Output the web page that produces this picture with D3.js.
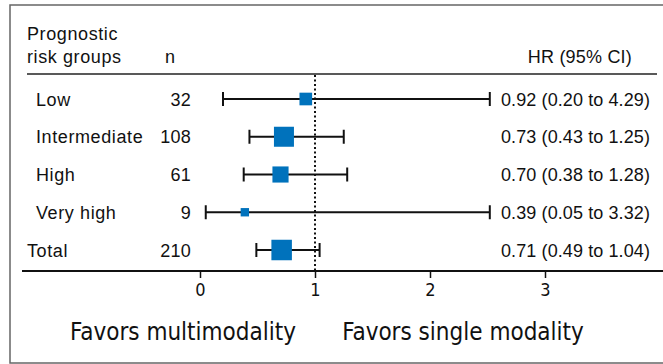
<!DOCTYPE html>
<html>
<head>
<meta charset="utf-8">
<script src="https://cdn.jsdelivr.net/npm/d3@7"></script>
<style>
  body { margin: 0; background: #fff; }
  svg text { font-family: "Liberation Sans", Arial, sans-serif; fill: #111; }
  .narrow { font-family: "Liberation Sans Narrow", "DejaVu Sans Condensed", "Liberation Sans", sans-serif; }
</style>
</head>
<body>
<svg></svg>
<script>
// Data
var groups = ["Low", "Intermediate", "High", "Very high", "Total"];
var counts = [32, 108, 61, 9, 210];
var hr = [0.92, 0.73, 0.70, 0.39, 0.71];
var lower = [0.20, 0.43, 0.38, 0.05, 0.49];
var upper = [4.29, 1.25, 1.28, 3.32, 1.04];
var boxWeight = [16, 40, 26, 7, 42];
var ticks = [0, 1, 2, 3];

var width = 663, height = 364;
var blue = "#0072bc";

var svg = d3.select("svg")
    .attr("width", width)
    .attr("height", height);

// outer frame (runs off the right side)
svg.append("rect")
    .attr("x", 10).attr("y", 5)
    .attr("width", 700).attr("height", 358)
    .attr("fill", "none")
    .attr("stroke", "#666")
    .attr("stroke-width", 1.5);

// scales
var x = d3.scaleLinear().domain([0, 3]).range([200, 545]);
var xMax = 2.52; // CIs are cut at the plot edge
var y = d3.scalePoint().domain(groups).range([99, 250]);
var size = d3.scaleSqrt().domain([0, 42]).range([0, 20.5]);

function label(sel) {
    sel.style("font-size", "18px").style("letter-spacing", "0.6px");
}

// header
var head = svg.append("g").call(label);
head.append("text").attr("x", 27).attr("y", 40).text("Prognostic");
head.append("text").attr("x", 27).attr("y", 63).text("risk groups");
head.append("text").attr("x", 165).attr("y", 63).text("n");
head.append("text").attr("x", 632).attr("y", 63).attr("text-anchor", "end")
    .style("letter-spacing", "0.2px").text("HR (95% CI)");

svg.append("line")
    .attr("x1", 27).attr("x2", 657)
    .attr("y1", 74).attr("y2", 74)
    .attr("stroke", "#222").attr("stroke-width", 1.5);

// null line at HR = 1
svg.append("line")
    .attr("x1", x(1)).attr("x2", x(1))
    .attr("y1", 75).attr("y2", 271)
    .attr("stroke", "#111")
    .attr("stroke-width", 2)
    .attr("stroke-dasharray", "2,2.5");

var rows = svg.append("g").selectAll("g")
    .data(groups)
    .join("g")
    .attr("transform", function(d) { return "translate(0," + y(d) + ")"; });

rows.append("text")
    .attr("x", function(d) { return d == "Total" ? 27 : 36; })
    .attr("y", 6.5)
    .call(label)
    .text(function(d) { return d; });

rows.append("text")
    .attr("x", 191)
    .attr("y", 6.5)
    .attr("text-anchor", "end")
    .call(label)
    .style("letter-spacing", "0.2px")
    .text(function(d, i) { return counts[i]; });

rows.append("text")
    .attr("x", 501)
    .attr("y", 6.5)
    .call(label)
    .style("letter-spacing", "0.1px")
    .text(function(d, i) {
        return hr[i].toFixed(2) + " (" + lower[i].toFixed(2) + " to " + upper[i].toFixed(2) + ")";
    });

// CI whiskers
rows.append("line")
    .attr("x1", function(d, i) { return x(lower[i]); })
    .attr("x2", function(d, i) { return x(Math.min(upper[i], xMax)); })
    .attr("stroke", "#111").attr("stroke-width", 1.8);

rows.append("line")
    .attr("x1", function(d, i) { return x(lower[i]); })
    .attr("x2", function(d, i) { return x(lower[i]); })
    .attr("y1", -7).attr("y2", 7)
    .attr("stroke", "#111").attr("stroke-width", 2);

rows.append("line")
    .attr("x1", function(d, i) { return x(Math.min(upper[i], xMax)); })
    .attr("x2", function(d, i) { return x(Math.min(upper[i], xMax)); })
    .attr("y1", -7).attr("y2", 7)
    .attr("stroke", "#111").attr("stroke-width", 2);

// point estimates
rows.append("rect")
    .attr("x", function(d, i) { return x(hr[i]) - size(boxWeight[i]) / 2; })
    .attr("y", function(d, i) { return -size(boxWeight[i]) / 2; })
    .attr("width", function(d, i) { return size(boxWeight[i]); })
    .attr("height", function(d, i) { return size(boxWeight[i]); })
    .attr("fill", blue);

// axis
var axis = svg.append("g")
    .attr("transform", "translate(0,271)")
    .call(d3.axisBottom(x).tickValues(ticks).tickSize(7).tickPadding(5).tickFormat(d3.format("d")));
axis.select(".domain").remove();
axis.selectAll(".tick line").attr("stroke", "#111").attr("stroke-width", 1.5);
axis.selectAll(".tick text")
    .attr("class", "narrow")
    .style("font-size", "18px")
    .attr("fill", "#111");

svg.append("line")
    .attr("x1", 22).attr("x2", width)
    .attr("y1", 271).attr("y2", 271)
    .attr("stroke", "#111").attr("stroke-width", 2);

// direction labels
svg.append("text")
    .attr("class", "narrow")
    .attr("x", 183).attr("y", 340)
    .attr("text-anchor", "middle")
    .style("font-size", "24px")
    .text("Favors multimodality");

svg.append("text")
    .attr("class", "narrow")
    .attr("x", 463).attr("y", 340)
    .attr("text-anchor", "middle")
    .style("font-size", "24px")
    .text("Favors single modality");
</script>
</body>
</html>
